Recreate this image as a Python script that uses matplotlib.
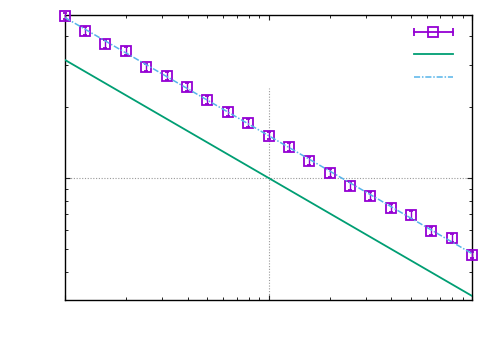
import matplotlib
matplotlib.use('Agg')
import matplotlib.pyplot as plt
from matplotlib.lines import Line2D
from matplotlib.legend_handler import HandlerLine2D, HandlerTuple
from matplotlib.ticker import LogLocator, NullFormatter

# measured points (log-spaced x, one decade = 10 steps)
x_data = [1.0, 1.26, 1.58, 2.0, 2.51, 3.16, 3.98, 5.01, 6.31, 7.94, 10.0,
          12.6, 15.8, 20.0, 25.1, 31.6, 39.8, 50.1, 63.1, 79.4, 100.0]
y_data = [4.86, 4.20, 3.70, 3.45, 2.95, 2.71, 2.43, 2.14, 1.90, 1.71, 1.51,
          1.35, 1.18, 1.05, 0.925, 0.839, 0.746, 0.697, 0.596, 0.557, 0.472]
y_err = [0.16, 0.16, 0.13, 0.13, 0.10, 0.11, 0.09, 0.08, 0.07, 0.07, 0.05,
         0.05, 0.045, 0.04, 0.035, 0.03, 0.03, 0.025, 0.025, 0.02, 0.015]

# reference power law and fit (straight lines in log-log)
ref_x = [1.0, 100.0]
ref_y = [3.162, 0.3162]
fit_x = [1.0, 100.0]
fit_y = [4.78, 0.478]

purple = '#9400D3'
green = '#009E73'
blue = '#56B4E9'

fig = plt.figure(figsize=(5, 3.5), dpi=100)
ax = fig.add_axes([0.13, 0.143, 0.814, 0.814])

ax.set_xscale('log')
ax.set_yscale('log')
ax.set_xlim(1, 100)
ax.set_ylim(0.304, 4.9)

# gnuplot-ish partial grid
ax.axhline(1.0, color='#999999', ls=(0, (1, 1.5)), lw=0.8, zorder=0)
ax.axvline(10.0, ymin=0, ymax=0.744, color='#999999', ls=(0, (1, 1.5)), lw=0.8, zorder=0)

eb = ax.errorbar(x_data, y_data, yerr=y_err, fmt='s', ms=7, mfc='none', mec=purple,
                 mew=1.3, ecolor=purple, elinewidth=1.0, capsize=1.5, capthick=1.0,
                 zorder=3)
for art in eb.get_children():
    art.set_clip_on(False)
ax.plot(ref_x, ref_y, color=green, lw=1.3, zorder=4)
ax.plot(fit_x, fit_y, color=blue, lw=1.1, dashes=(4, 1.2, 1, 1.2), zorder=5)

ax.xaxis.set_major_locator(LogLocator(base=10))
ax.xaxis.set_minor_locator(LogLocator(base=10, subs=range(2, 10)))
ax.yaxis.set_major_locator(LogLocator(base=10))
ax.yaxis.set_minor_locator(LogLocator(base=10, subs=range(2, 10)))
for axis in (ax.xaxis, ax.yaxis):
    axis.set_major_formatter(NullFormatter())
    axis.set_minor_formatter(NullFormatter())
ax.tick_params(which='both', direction='in', top=True, right=True, colors='#222222')
ax.tick_params(which='major', length=3.5, width=0.8)
ax.tick_params(which='minor', length=2.0, width=0.7)
for s in ax.spines.values():
    s.set_linewidth(1.0)
    s.set_color('black')

# key without text, gnuplot style
h_line = Line2D([], [], color=purple, lw=1.3, marker='s', ms=7, mfc='none', mew=1.3)
h_caps = Line2D([], [], color=purple, ls='none', marker='|', ms=6, mew=1.3)
h_ref = Line2D([], [], color=green, lw=1.3)
h_fit = Line2D([], [], color=blue, lw=1.1, dashes=(4, 1.2, 1, 1.2))
ax.legend([(h_line, h_caps), h_ref, h_fit], [' ', ' ', ' '],
          handler_map={tuple: HandlerTuple(ndivide=1, pad=0),
                       h_caps: HandlerLine2D(numpoints=2, marker_pad=0)},
          loc='upper left', bbox_to_anchor=(0.826, 1.006), frameon=False,
          handlelength=2.85, labelspacing=0.61, handletextpad=0.2)

fig.savefig('out.png', dpi=100)
